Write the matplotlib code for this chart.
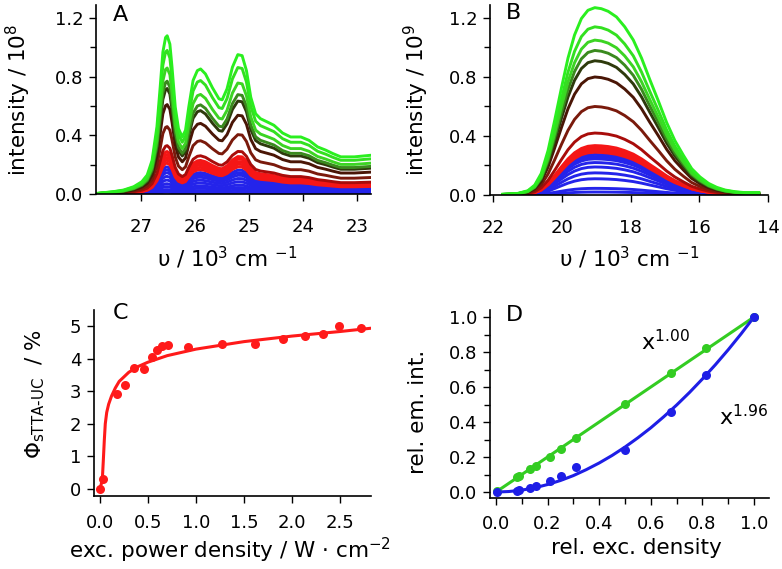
import numpy as np
import matplotlib
matplotlib.use('Agg')
import matplotlib.pyplot as plt

plt.rcParams['font.family'] = ['DejaVu Sans']
plt.rcParams['mathtext.default'] = 'regular'

# ---------------- Panel A: upconverted emission (highest-power spectrum shape) -------------
a_wavenumber = [27.80, 27.52, 27.33, 27.14, 26.99, 26.89, 26.80, 26.71, 26.65, 26.60,
                26.55, 26.52, 26.47, 26.43, 26.37, 26.31, 26.24, 26.18, 26.12, 26.04,
                25.96, 25.90, 25.81, 25.68, 25.56, 25.50, 25.41, 25.31, 25.21, 25.13,
                25.05, 24.97, 24.88, 24.79, 24.66, 24.54, 24.38, 24.23, 24.04, 23.89,
                23.73, 23.58, 23.45, 23.30, 23.05, 22.74]
a_top_curve = [0.005, 0.016, 0.027, 0.05, 0.084, 0.13, 0.23, 0.46, 0.73, 0.97,
               1.07, 1.082, 1.025, 0.867, 0.594, 0.447, 0.39, 0.436, 0.594, 0.776,
               0.844, 0.855, 0.821, 0.726, 0.651, 0.644, 0.719, 0.867, 0.953, 0.946,
               0.844, 0.662, 0.549, 0.515, 0.492, 0.47, 0.417, 0.39, 0.39, 0.367,
               0.322, 0.30, 0.277, 0.254, 0.254, 0.265]
# peak intensity (x 1e8) at 26.5 kcm-1 of each spectrum, lowest to highest power
a_peaks = [0.012, 0.03, 0.05, 0.07, 0.095, 0.12, 0.145, 0.165, 0.185,
           0.21, 0.23, 0.25, 0.27, 0.29,
           0.33, 0.46, 0.61, 0.72, 0.77, 0.86, 0.98, 1.08]

# ---------------- Panel B: sensitizer emission --------------------------------------------
b_wavenumber = [21.72, 21.28, 20.99, 20.79, 20.60, 20.40, 20.21, 20.01, 19.82, 19.63,
                19.43, 19.24, 19.04, 18.85, 18.65, 18.41, 18.17, 17.92, 17.68, 17.44,
                17.19, 16.95, 16.71, 16.46, 16.22, 15.98, 15.73, 15.49, 15.25, 14.95,
                14.66, 14.27]
b_top_curve = [0.005, 0.011, 0.029, 0.067, 0.146, 0.303, 0.505, 0.729, 0.931, 1.088,
               1.20, 1.256, 1.274, 1.267, 1.249, 1.211, 1.144, 1.054, 0.931, 0.785,
               0.639, 0.493, 0.37, 0.269, 0.179, 0.123, 0.079, 0.052, 0.034, 0.022,
               0.016, 0.016]
# peak intensity (x 1e9) of each spectrum, lowest to highest power
b_peaks = [0.02, 0.045, 0.11, 0.15, 0.19, 0.22, 0.245, 0.26, 0.275,
           0.29, 0.30, 0.31, 0.32, 0.335,
           0.42, 0.60, 0.80, 0.91, 0.98, 1.05, 1.14, 1.27]

spectrum_colors = (['#2424ea'] * 9 + ['#f51616'] * 5 +
                   ['#a80c0a', '#7a1a0c', '#4a1606', '#2e3a0c', '#3a8a1e',
                    '#3cd423', '#33e020', '#2aef1f'])

# ---------------- Panel C: quantum yield vs power density ---------------------------------
c_power = [0.0, 0.028, 0.174, 0.26, 0.358, 0.458, 0.538, 0.59, 0.642, 0.705,
           0.913, 1.274, 1.615, 1.91, 2.135, 2.32, 2.49, 2.72]
c_yield = [0.0, 0.31, 2.92, 3.19, 3.72, 3.69, 4.04, 4.27, 4.39, 4.42,
           4.36, 4.44, 4.44, 4.61, 4.70, 4.76, 4.99, 4.93]
c_fit_x = [0.0, 0.024, 0.035, 0.045, 0.055, 0.07, 0.09, 0.12, 0.16, 0.2, 0.3, 0.4,
           0.5, 0.7, 1.0, 1.5, 2.0, 2.5, 2.82]
c_fit_y = [0.0, 0.28, 0.9, 1.5, 2.0, 2.35, 2.6, 2.85, 3.1, 3.3, 3.58, 3.76,
           3.89, 4.09, 4.29, 4.52, 4.69, 4.83, 4.93]

# ---------------- Panel D: relative emission vs relative excitation density ---------------
d_exc = [0.004, 0.081, 0.090, 0.133, 0.155, 0.21, 0.254, 0.311, 0.502, 0.677, 0.814, 1.0]
d_green = [0.008, 0.084, 0.09, 0.131, 0.147, 0.198, 0.246, 0.309, 0.503, 0.678, 0.823, 1.0]
d_blue = [0.0, 0.006, 0.01, 0.021, 0.034, 0.063, 0.093, 0.145, 0.24, 0.457, 0.67, 1.0]
d_green_fit_x = [0.0, 1.0]
d_green_fit_y = [0.0, 1.0]
d_blue_fit_x = [0.0, 0.05, 0.1, 0.15, 0.2, 0.25, 0.3, 0.35, 0.4, 0.45, 0.5, 0.55,
                0.6, 0.65, 0.7, 0.75, 0.8, 0.85, 0.9, 0.95, 1.0]
d_blue_fit_y = [0.0, 0.003, 0.011, 0.024, 0.043, 0.066, 0.094, 0.128, 0.166, 0.209,
                0.257, 0.31, 0.367, 0.43, 0.497, 0.569, 0.646, 0.727, 0.813, 0.904, 1.0]

TICK_FS = 13
LABEL_FS = 15.5
W, H = 782, 569

fig = plt.figure(figsize=(W / 100, H / 100), dpi=100)


def make_ax(left, right, top, bottom):
    return fig.add_axes([left / W, 1 - bottom / H, (right - left) / W, (bottom - top) / H])


def style(ax, xpad=9):
    for s in ('top', 'right'):
        ax.spines[s].set_visible(False)
    for s in ('left', 'bottom'):
        ax.spines[s].set_linewidth(1.2)
    ax.tick_params(direction='out', length=5, width=1.0, labelsize=TICK_FS)
    ax.tick_params(axis='x', pad=xpad)
    ax.tick_params(axis='y', pad=4)
    ax.tick_params(which='minor', direction='out', length=4, width=1.0)


axA = make_ax(96, 371, 5, 194)
axB = make_ax(490, 768, 5, 195)
axC = make_ax(94, 371, 310, 496)
axD = make_ax(490, 769, 310, 498)

# ---- A
a_top = np.array(a_top_curve)
for pk, col in zip(a_peaks, spectrum_colors):
    axA.plot(a_wavenumber, a_top * pk / a_top.max(), color=col, lw=2.1,
             solid_joinstyle='round')
axA.set_xlim(27.84, 22.74)
axA.set_ylim(0, 1.29)
axA.set_xticks([27, 26, 25, 24, 23])
axA.set_yticks([0.0, 0.4, 0.8, 1.2])
axA.set_yticks([0.2, 0.6, 1.0], minor=True)
axA.set_yticklabels(['0.0', '0.4', '0.8', '1.2'])
style(axA, xpad=12)
axA.set_ylabel('intensity / 10$^{8}$', fontsize=LABEL_FS)
axA.yaxis.set_label_coords(-0.229, 0.5)
axA.set_xlabel('υ / 10$^{3}$ cm $^{-1}$', fontsize=LABEL_FS)
axA.xaxis.set_label_coords(0.476, -0.27)
axA.text(0.09, 0.947, 'A', transform=axA.transAxes, fontsize=16, ha='center', va='center')

# ---- B
b_top = np.array(b_top_curve)
for pk, col in zip(b_peaks, spectrum_colors):
    axB.plot(b_wavenumber, b_top * pk / b_top.max(), color=col, lw=2.1,
             solid_joinstyle='round')
axB.set_xlim(22.09, 14.0)
axB.set_ylim(0, 1.288)
axB.set_xticks([22, 20, 18, 16, 14])
axB.set_yticks([0.0, 0.4, 0.8, 1.2])
axB.set_yticks([0.2, 0.6, 1.0], minor=True)
axB.set_yticklabels(['0.0', '0.4', '0.8', '1.2'])
style(axB, xpad=12)
axB.set_ylabel('intensity / 10$^{9}$', fontsize=LABEL_FS)
axB.yaxis.set_label_coords(-0.212, 0.5)
axB.set_xlabel('υ / 10$^{3}$ cm $^{-1}$', fontsize=LABEL_FS)
axB.xaxis.set_label_coords(0.5, -0.262)
axB.text(0.083, 0.958, 'B', transform=axB.transAxes, fontsize=16, ha='center', va='center')

# ---- C
red = '#ff1a1a'
axC.plot(c_fit_x, c_fit_y, color=red, lw=2.2, solid_joinstyle='round')
axC.plot(c_power, c_yield, 'o', color=red, ms=6.5, mec='none')
axC.set_xlim(-0.0625, 2.823)
axC.set_ylim(-0.215, 5.49)
axC.set_xticks([0.0, 0.5, 1.0, 1.5, 2.0, 2.5])
axC.set_xticklabels(['0.0', '0.5', '1.0', '1.5', '2.0', '2.5'])
axC.set_yticks([0, 1, 2, 3, 4, 5])
style(axC, xpad=8)
axC.set_ylabel(r'$\Phi_{\mathregular{sTTA\text{-}UC}}$  / %', fontsize=LABEL_FS)
axC.yaxis.set_label_coords(-0.17, 0.55)
axC.set_xlabel('exc. power density / W · cm$^{-2}$', fontsize=LABEL_FS)
axC.xaxis.set_label_coords(0.49, -0.215)
axC.text(0.094, 0.984, 'C', transform=axC.transAxes, fontsize=16, ha='center', va='center')

# ---- D
green = '#33cc22'
blue = '#1e1ee6'
axD.plot(d_green_fit_x, d_green_fit_y, color=green, lw=2.2)
axD.plot(d_blue_fit_x, d_blue_fit_y, color=blue, lw=2.2)
axD.plot(d_exc, d_green, 'o', color=green, ms=6.5, mec='none')
axD.plot(d_exc, d_blue, 'o', color=blue, ms=6.5, mec='none')
axD.set_xlim(-0.023, 1.058)
axD.set_ylim(-0.034, 1.04)
axD.set_xticks([0.0, 0.2, 0.4, 0.6, 0.8, 1.0])
axD.set_xticks([0.1, 0.3, 0.5, 0.7, 0.9], minor=True)
axD.set_yticks([0.0, 0.2, 0.4, 0.6, 0.8, 1.0])
axD.set_yticks([0.1, 0.3, 0.5, 0.7, 0.9], minor=True)
axD.set_xticklabels(['0.0', '0.2', '0.4', '0.6', '0.8', '1.0'])
axD.set_yticklabels(['0.0', '0.2', '0.4', '0.6', '0.8', '1.0'])
style(axD, xpad=7)
axD.set_ylabel('rel. em. int.', fontsize=LABEL_FS)
axD.yaxis.set_label_coords(-0.222, 0.46)
axD.set_xlabel('rel. exc. density', fontsize=LABEL_FS)
axD.xaxis.set_label_coords(0.523, -0.212)
axD.text(0.086, 0.973, 'D', transform=axD.transAxes, fontsize=16, ha='center', va='center')
axD.text(0.562, 0.857, r'x$^{1.00}$', fontsize=16, ha='left', va='center')
axD.text(0.864, 0.43, r'x$^{1.96}$', fontsize=16, ha='left', va='center')

fig.savefig('out.png', dpi=100)
